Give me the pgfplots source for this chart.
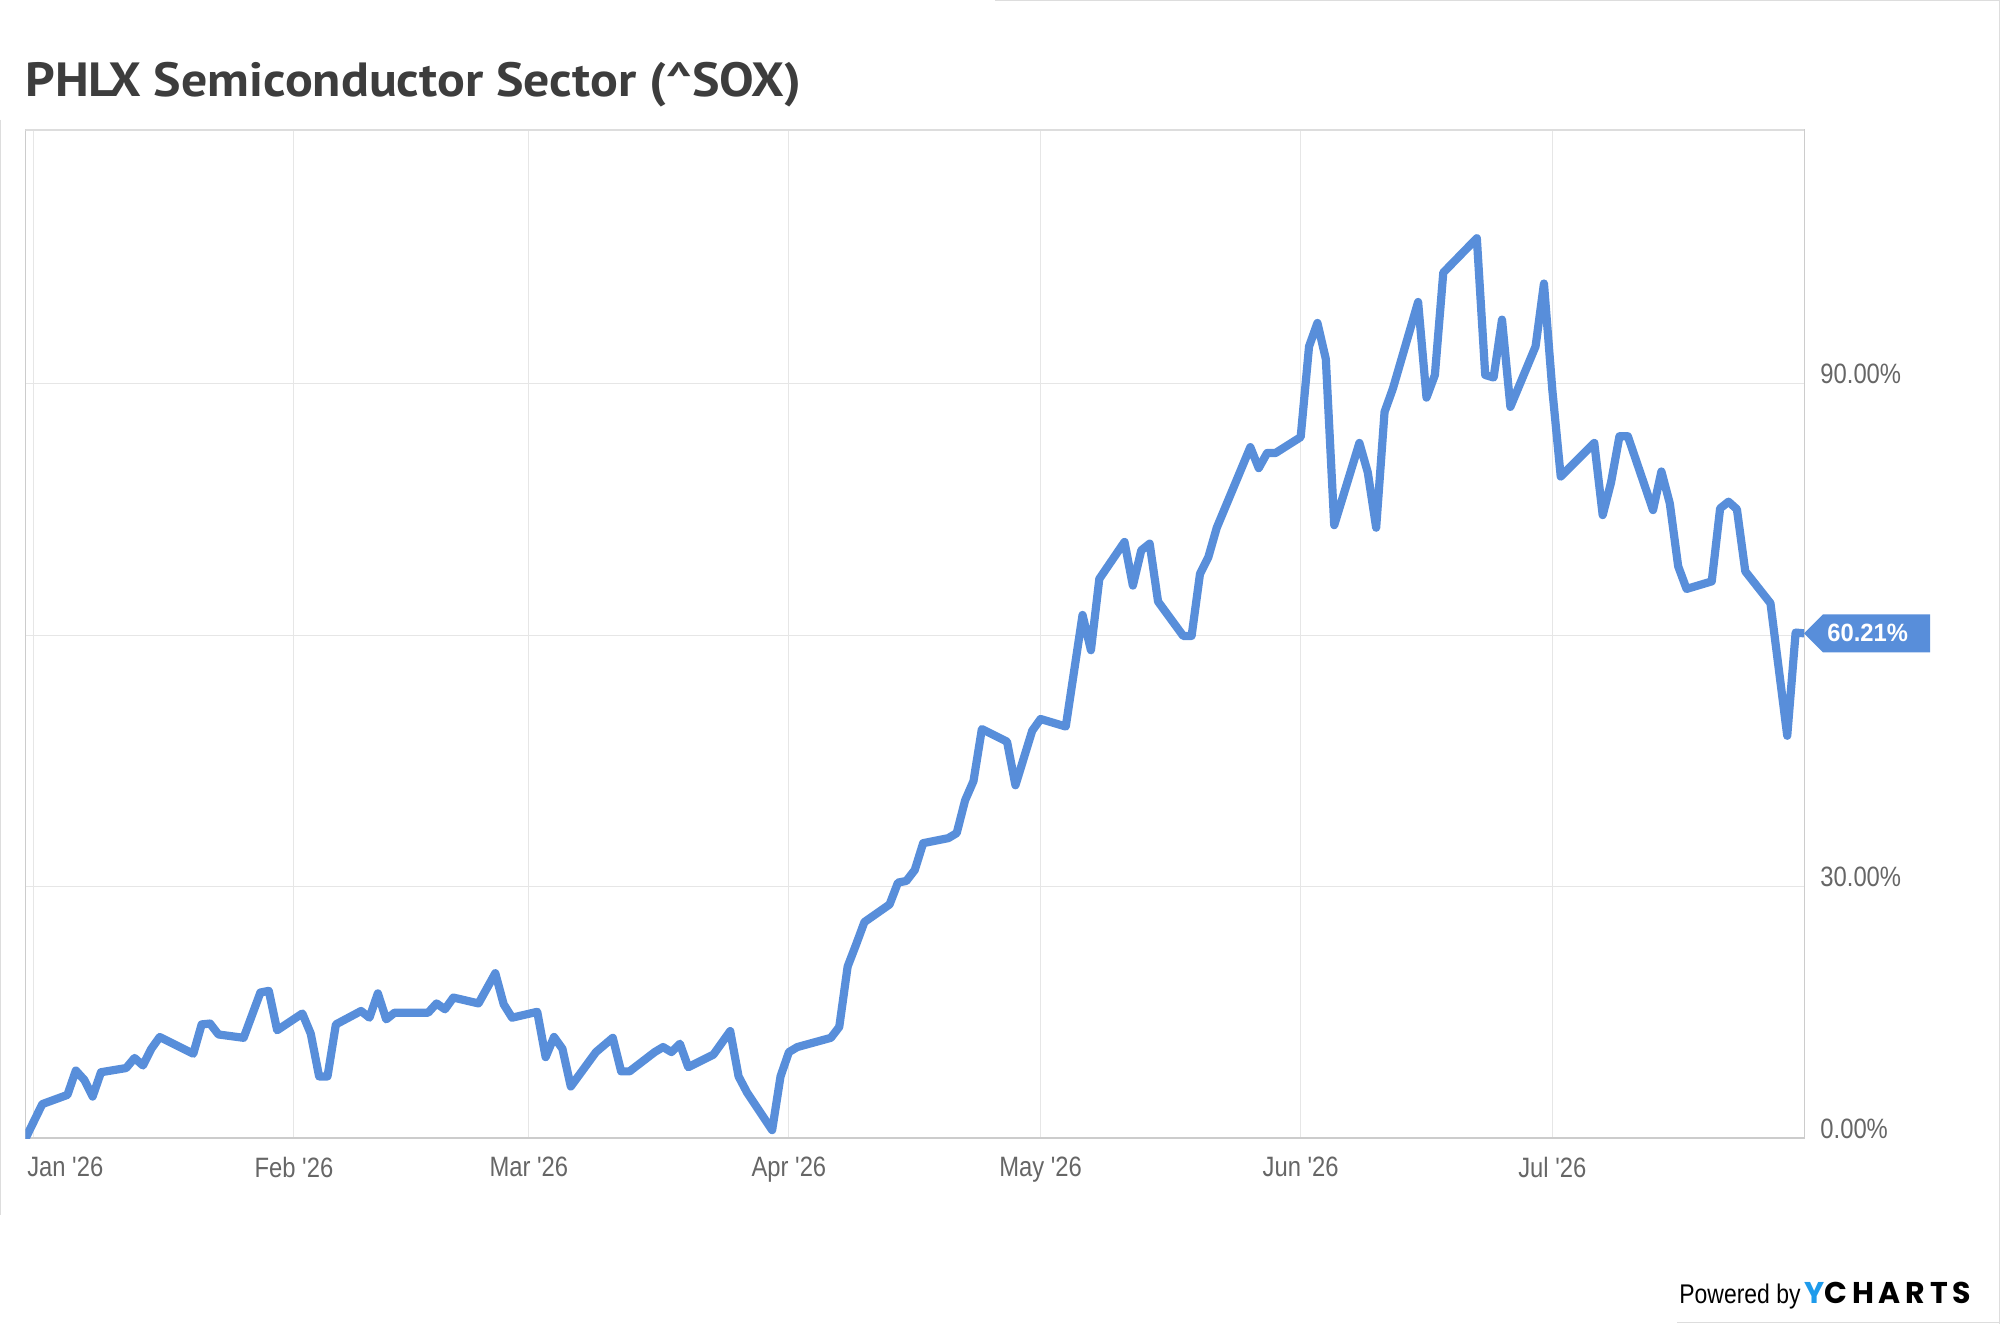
\documentclass[border=0pt]{standalone}
\usepackage{fontspec}
\usepackage{pgfplots}
\pgfplotsset{compat=1.18}
\newfontfamily\titlefont[FakeStretch=1.08]{PT Sans}
\newfontfamily\tickfont[FakeStretch=0.85, Ligatures=TeXOff]{Liberation Sans}
\newfontfamily\calloutfont[FakeStretch=0.95]{Liberation Sans}
\newfontfamily\ycfont[LetterSpace=16]{Poppins}
\newfontfamily\ycy{Poppins}
\definecolor{ycblue}{RGB}{88,142,218}
\definecolor{gridc}{RGB}{230,230,230}
\definecolor{axisc}{RGB}{204,204,204}
\definecolor{tickc}{RGB}{102,102,102}
\definecolor{titlec}{RGB}{61,61,61}
\definecolor{logoblue}{RGB}{30,155,235}
\definecolor{framec}{RGB}{221,221,221}
\begin{document}
\begin{tikzpicture}
\useasboundingbox (0,0) rectangle (1000pt,662pt);
% page frame fragments
\draw[framec, line width=0.5pt] (0.25pt,602pt) -- (0.25pt,54.5pt);
\draw[framec, line width=0.5pt] (497.5pt,661.75pt) -- (1000pt,661.75pt);
\draw[framec, line width=0.5pt] (999.6pt,662pt) -- (999.6pt,0pt);
\draw[framec, line width=0.5pt] (838.5pt,1pt) -- (1000pt,1pt);
\begin{axis}[
  at={(12.75pt,92.75pt)}, anchor=south west, scale only axis,
  width=889.25pt, height=504.25pt,
  xmin=-1, xmax=211, ymin=0, ymax=120.2,
  xtick={0,31,59,90,120,151,181},
  xticklabels={\makebox[0pt][l]{\hspace{-3.3pt}Jan '26},Feb '26,Mar '26,Apr '26,May '26,Jun '26,Jul '26},
  ytick={0,30,60,90},
  yticklabels={0.00\%,30.00\%,{},90.00\%},
  yticklabel pos=right,
  major tick length=0pt,
  grid=major,
  grid style={draw=gridc, line width=0.5pt},
  axis line style={draw=axisc, line width=0.5pt},
  x tick label style={anchor=north, inner sep=0pt, yshift=-9.25pt, text=tickc, font=\tickfont\fontsize{14}{16}\selectfont},
  y tick label style={anchor=base west, inner sep=0pt, xshift=8pt, text=tickc, font=\tickfont\fontsize{14}{16}\selectfont},
]
\draw[axisc, line width=1.5pt] (rel axis cs:0,0) -- (rel axis cs:1,0);
\draw[framec, line width=1pt] (rel axis cs:0,1) -- (rel axis cs:1,1);
\addplot[ycblue, line width=4.1pt, line join=round, line cap=round] table {
x y
-1 0
1 4.1
4 5.2
5 8.1
6 7.0
7 5.0
8 7.9
11 8.4
12 9.6
13 8.7
14 10.7
15 12.1
19 10.1
20 13.6
21 13.7
22 12.4
25 12.0
27 17.4
28 17.6
29 12.9
32 14.9
33 12.5
34 7.4
35 7.4
36 13.6
39 15.2
40 14.4
41 17.3
42 14.2
43 15.0
47 15.0
48 16.1
49 15.4
50 16.8
53 16.1
55 19.7
56 16.0
57 14.4
60 15.1
61 9.7
62 12.1
63 10.7
64 6.2
67 10.3
69 12.0
70 8.0
71 8.0
74 10.3
75 10.9
76 10.3
77 11.3
78 8.5
81 10.0
83 12.8
84 7.4
85 5.5
88 1.0
89 7.4
90 10.3
91 10.9
95 12.0
96 13.3
97 20.5
98 23.1
99 25.8
102 27.9
103 30.5
104 30.7
105 32.0
106 35.2
109 35.8
110 36.4
111 40.3
112 42.6
113 48.8
116 47.3
117 42.1
119 48.6
120 50.0
123 49.1
125 62.4
126 58.2
127 66.7
130 71.1
131 65.9
132 70.1
133 70.9
134 64.0
137 59.9
138 59.9
139 67.3
140 69.3
141 72.8
145 82.4
146 79.9
147 81.7
148 81.7
151 83.6
152 94.4
153 97.2
154 92.9
155 73.1
158 82.9
159 79.4
160 72.8
161 86.6
162 89.4
165 99.7
166 88.3
167 91.0
168 103.2
172 107.3
173 91.0
174 90.7
175 97.6
176 87.2
179 94.4
180 101.9
181 89.2
182 78.9
186 82.9
187 74.3
188 78.2
189 83.7
190 83.7
193 74.9
194 79.5
195 75.7
196 68.2
197 65.5
200 66.4
201 75.1
202 75.9
203 75.0
204 67.6
207 63.8
209 48.0
210 60.3
211 60.21
};
\coordinate (last) at (axis cs:211,60.21);
\end{axis}
% callout
\fill[ycblue] (last) -- ++(9.5pt,9.5pt) -- ++(53.5pt,0pt) -- ++(0pt,-19pt) -- ++(-53.5pt,0pt) -- cycle;
\node[anchor=base west, inner sep=0pt, text=white, font=\calloutfont\bfseries\fontsize{12.5}{14}\selectfont] at ([xshift=11.5pt,yshift=-4.2pt]last) {60.21\%};
% title
\node[anchor=base west, inner sep=0pt, text=titlec, font=\titlefont\bfseries\fontsize{24}{28}\selectfont] at (12.5pt,613.5pt) {PHLX Semiconductor Sector (\textasciicircum SOX)};
% logo
\node[anchor=base west, inner sep=0pt, text=black, font=\tickfont\fontsize{13.5}{16}\selectfont] at (839.5pt,10.5pt) {Powered by};
\node[anchor=base west, inner sep=0pt, text=logoblue, font=\ycy\bfseries\fontsize{15}{18}\selectfont] at (902pt,10.5pt) {Y};
\node[anchor=base west, inner sep=0pt, text=black, font=\ycfont\bfseries\fontsize{15}{18}\selectfont] at (912pt,10.5pt) {CHARTS};
\end{tikzpicture}
\end{document}
